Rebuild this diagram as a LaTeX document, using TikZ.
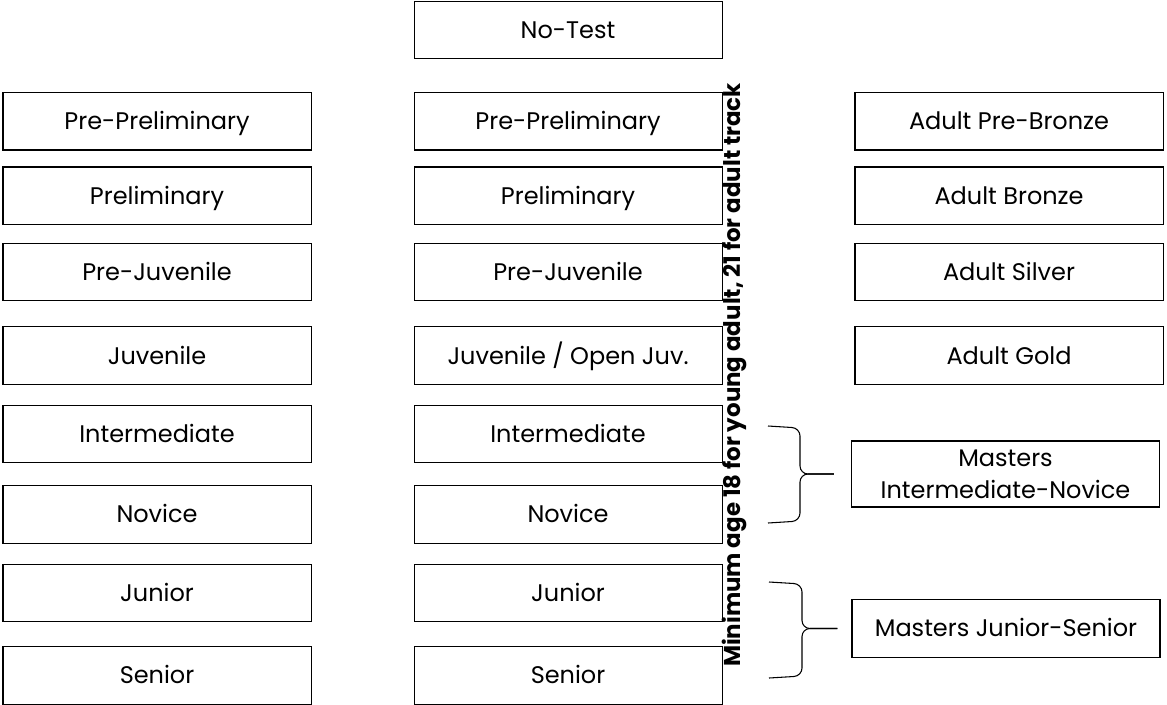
\documentclass[tikz,border=0pt]{standalone}
\usepackage{fontspec}
\setmainfont{Poppins}
\usetikzlibrary{matrix, positioning}

\begin{document}
\begin{tikzpicture}[x=0.75pt, y=0.75pt,
  lvl/.style={draw, line width=0.8pt, minimum width=231pt, minimum height=43.1pt, inner sep=0pt, align=center, font=\fontsize{18}{24}\selectfont},
  lvlone/.style={lvl, text height=12.6pt, text depth=0pt},
  brc/.style={line width=0.8pt, rounded corners=6pt}]
\useasboundingbox (0,0) rectangle (1167,-704);
\matrix (lv) [inner sep=0pt, outer sep=0pt, row sep=0pt, column sep=76.45pt, anchor=north west] at (2.5,-0.5) {
& \node[lvlone](nt){No-Test}; \\[24.7pt]
\node[lvlone](s-pp){Pre-Preliminary}; & \node[lvlone](t-pp){Pre-Preliminary}; &[22.5pt] \node[lvlone](a-pb){Adult Pre-Bronze}; \\[11.95pt]
\node[lvlone](s-p){Preliminary}; & \node[lvlone](t-p){Preliminary}; & \node[lvlone](a-b){Adult Bronze}; \\[13.45pt]
\node[lvlone](s-pj){Pre-Juvenile}; & \node[lvlone](t-pj){Pre-Juvenile}; & \node[lvlone](a-s){Adult Silver}; \\[18.7pt]
\node[lvlone](s-j){Juvenile}; & \node[lvlone](t-j){Juvenile / Open Juv.}; & \node[lvlone](a-g){Adult Gold}; \\[14.95pt]
\node[lvlone](s-i){Intermediate}; & \node[lvlone](t-i){Intermediate}; \\[16.45pt]
\node[lvlone](s-n){Novice}; & \node[lvlone](t-n){Novice}; \\[14.95pt]
\node[lvlone](s-jr){Junior}; & \node[lvlone](t-jr){Junior}; \\[17.95pt]
\node[lvlone](s-sr){Senior}; & \node[lvlone](t-sr){Senior}; \\
};
\node[font=\fontsize{17.2}{23}\selectfont\bfseries, rotate=90, anchor=base] (agenote) at (740,-375) {Minimum age 18 for young adult, 21 for adult track};
% masters levels
\node[lvl, minimum height=49.5pt] (m-in) at (1005.5,-474) {Masters\\Intermediate-Novice};
\node[lvlone] (m-js) at (1006,-628.5) {Masters Junior-Senior};
\coordinate[left=12.75pt of m-in] (in-tip);
\coordinate[left=10.5pt of m-js] (js-tip);
\coordinate (in-top) at (768,-426);
\coordinate (in-bot) at (768,-523);
\coordinate (js-top) at (769,-582);
\coordinate (js-bot) at (769,-678);
\draw[brc] (in-top) -- ++(32,-2) |- (in-tip);
\draw[brc] (in-bot) -- ++(32,2) |- (in-tip);
\draw[brc] (js-top) -- ++(33,-2) |- (js-tip);
\draw[brc] (js-bot) -- ++(33,2) |- (js-tip);
\end{tikzpicture}
\end{document}
